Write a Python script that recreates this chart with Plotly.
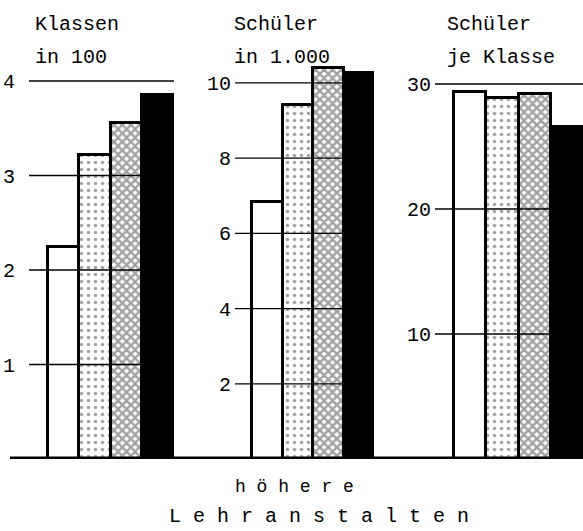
import plotly.graph_objects as go

# Four school years per panel, drawn as adjacent bars
positions = [0, 1, 2, 3]

klassen_100 = [2.24, 3.22, 3.56, 3.85]        # Klassen in 100
schueler_1000 = [6.83, 9.41, 10.40, 10.27]    # Schüler in 1.000
schueler_je_klasse = [29.4, 28.9, 29.2, 26.6]  # Schüler je Klasse

ticks_1 = [1, 2, 3, 4]
ticks_2 = [2, 4, 6, 8, 10]
ticks_3 = [10, 20, 30]

titles = [["Klassen", "in 100"], ["Schüler", "in 1.000"], ["Schüler", "je Klasse"]]
footer = ["h ö h e r e", "L e h r a n s t a l t e n"]

W, H = 583, 531
FONT = "Liberation Mono"

# bar fills: white, light dots, dense dotted mesh, solid black
fill_colors = ["white", "white", "white", "black"]
pattern_shapes = ["", ".", "x", ""]
pattern_sizes = [7, 7, 6, 6]
pattern_solidity = [0.2, 0.2, 0.65, 0.2]


def px_x(p):
    return p / W


def px_y(p):
    return (H - p) / H


panels = [
    (klassen_100, ticks_1, (29, 174), [-1.1, 3.5], [0, 4.434], 13),
    (schueler_1000, ticks_2, (235, 374), [-1.06, 3.5], [0, 11.14], 3),
    (schueler_je_klasse, ticks_3, (435, 583), [-1.1, 3.5], [0, 33.52], 3),
]

fig = go.Figure()
shapes = []
y_dom = [px_y(459), px_y(40)]

for i, (vals, tks, (x0, x1), xr, yr, standoff) in enumerate(panels, start=1):
    xa = "x" if i == 1 else f"x{i}"
    ya = "y" if i == 1 else f"y{i}"
    fig.add_trace(go.Bar(
        x=positions, y=vals, xaxis=xa, yaxis=ya, width=1,
        marker=dict(
            color=fill_colors,
            line=dict(color="black", width=3),
            pattern=dict(shape=pattern_shapes, size=pattern_sizes,
                         solidity=pattern_solidity, fgcolor="black",
                         fillmode="overlay"),
        ),
        showlegend=False, hoverinfo="skip",
    ))
    key = "" if i == 1 else str(i)
    fig.update_layout(**{
        f"xaxis{key}": dict(domain=[px_x(x0), px_x(x1)], range=xr,
                            visible=False, anchor=ya),
        f"yaxis{key}": dict(domain=y_dom, range=yr, anchor=xa,
                            tickvals=tks, ticktext=[str(t) for t in tks],
                            showgrid=False, zeroline=False, showline=False,
                            ticks="", ticklabelstandoff=standoff,
                            tickfont=dict(family=FONT, size=20, color="black")),
    })
    # thin reference lines across each panel, drawn over the bars
    for t in tks:
        shapes.append(dict(type="line", xref=f"{xa} domain", yref=ya,
                           x0=0, x1=1, y0=t, y1=t, layer="above",
                           line=dict(color="black", width=1.3)))

# heavy baseline under all panels
shapes.append(dict(type="line", xref="paper", yref="y", x0=px_x(10), x1=1,
                   y0=0, y1=0, layer="above",
                   line=dict(color="black", width=5)))

annotations = []
title_x = [33, 232, 445]
for (l1, l2), tx in zip(titles, title_x):
    annotations.append(dict(text=l1, x=px_x(tx), y=px_y(24), xref="paper", yref="paper",
                            xanchor="left", yanchor="middle", showarrow=False,
                            font=dict(family=FONT, size=20, color="black")))
    annotations.append(dict(text=l2, x=px_x(tx), y=px_y(57), xref="paper", yref="paper",
                            xanchor="left", yanchor="middle", showarrow=False,
                            font=dict(family=FONT, size=20, color="black")))
footer_pos = [(294, 487, 18), (319, 516, 20)]
for line, (fx, fy, fs) in zip(footer, footer_pos):
    annotations.append(dict(text=line, x=px_x(fx), y=px_y(fy), xref="paper", yref="paper",
                            xanchor="center", yanchor="middle", showarrow=False,
                            font=dict(family=FONT, size=fs, color="black")))

fig.update_layout(
    width=W, height=H, margin=dict(l=0, r=0, t=0, b=0),
    paper_bgcolor="white", plot_bgcolor="white",
    bargap=0, shapes=shapes, annotations=annotations,
)

fig.write_html("out.html")
